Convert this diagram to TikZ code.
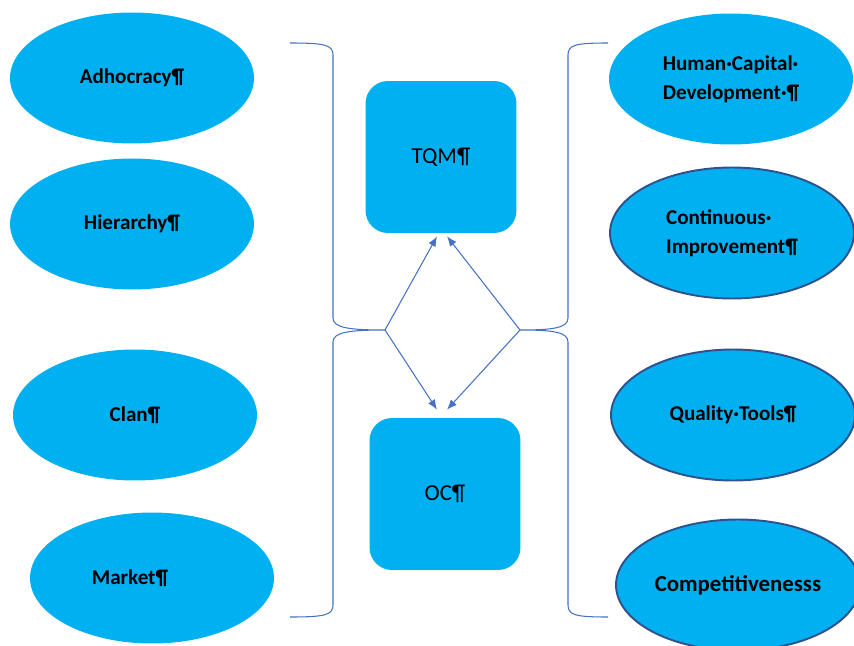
\documentclass[tikz,border=0pt]{standalone}
\usepackage{fontspec}
\setmainfont{Carlito}
\usetikzlibrary{shapes.geometric,arrows.meta}
\definecolor{officeblue}{HTML}{00B0F0}
\definecolor{linkblue}{HTML}{4472C4}
\definecolor{rimblue}{HTML}{2F528F}
\tikzset{
	culture/.style={ellipse, fill=officeblue, inner sep=0pt, minimum width=4.88cm, minimum height=2.62cm, font=\fontsize{12}{16.5}\selectfont\bfseries, align=center},
	outcome/.style={culture, draw=rimblue, line width=1.1pt},
	core/.style={rectangle, rounded corners=0.45cm, fill=officeblue, minimum width=3.02cm, minimum height=3.04cm, font=\fontsize{13}{15}\selectfont},
	brace/.style={draw=linkblue, line width=0.6pt},
	link/.style={draw=linkblue, line width=0.6pt, -{Latex[length=0.2cm,width=0.16cm]}}
}
\begin{document}
\begin{tikzpicture}[x=0.02cm, y=-0.02cm]
	%%%%% START %%%%%
	\useasboundingbox (0, 0) rectangle (854, 645);
	
	% culture types on the left
	\node[culture] (adhocracy) at (132, 78) {Adhocracy¶};
	\node[culture] (hierarchy) at (132, 224) {Hierarchy¶};
	\node[culture] (clan) at (135, 415) {Clan¶};
	\node[culture] (market) at (152, 578) {Market¶\hspace*{0.88cm}};
	
	% outcomes on the right
	\node[culture, align=left] (hcd) at (731, 79) {Human·Capital·\\Development·¶};
	\node[outcome, align=left] (ci) at (732, 233) {Continuous·\\Improvement¶};
	\node[outcome] (qt) at (733, 415) {Quality·Tools¶};
	\node[outcome, font=\fontsize{13}{16}\selectfont\bfseries] (comp) at (738, 585) {Competitivenesss};
	
	% TQM and OC in the middle
	\node[core] (tqm) at (441, 157) {TQM¶};
	\node[core] (oc) at (445, 494) {OC¶};
	
	\coordinate (ltip) at (385, 330);
	\coordinate (rtip) at (520, 330);
	
	% braces
	\draw[brace] (290, 43) .. controls (325, 43) and (333, 45) .. (333, 55) -- (333, 318)
		.. controls (333, 328) and (350, 330) .. (ltip)
		.. controls (350, 330) and (333, 332) .. (333, 342) -- (333, 605)
		.. controls (333, 615) and (325, 617) .. (290, 617);
	\draw[brace] (608, 43) .. controls (575, 43) and (568, 45) .. (568, 55) -- (568, 318)
		.. controls (568, 328) and (553, 330) .. (rtip)
		.. controls (553, 330) and (568, 332) .. (568, 342) -- (568, 605)
		.. controls (568, 615) and (575, 617) .. (608, 617);
	
	% arrows
	\draw[link] (ltip) -- ([xshift=-0.08cm, yshift=-0.06cm]tqm.south);
	\draw[link] (rtip) -- ([xshift=0.12cm, yshift=-0.06cm]tqm.south);
	\draw[link] (ltip) -- ([xshift=-0.16cm, yshift=0.16cm]oc.north);
	\draw[link] (rtip) -- ([xshift=0.04cm, yshift=0.16cm]oc.north);
	
	%%%%% END %%%%%
\end{tikzpicture}
\end{document}
